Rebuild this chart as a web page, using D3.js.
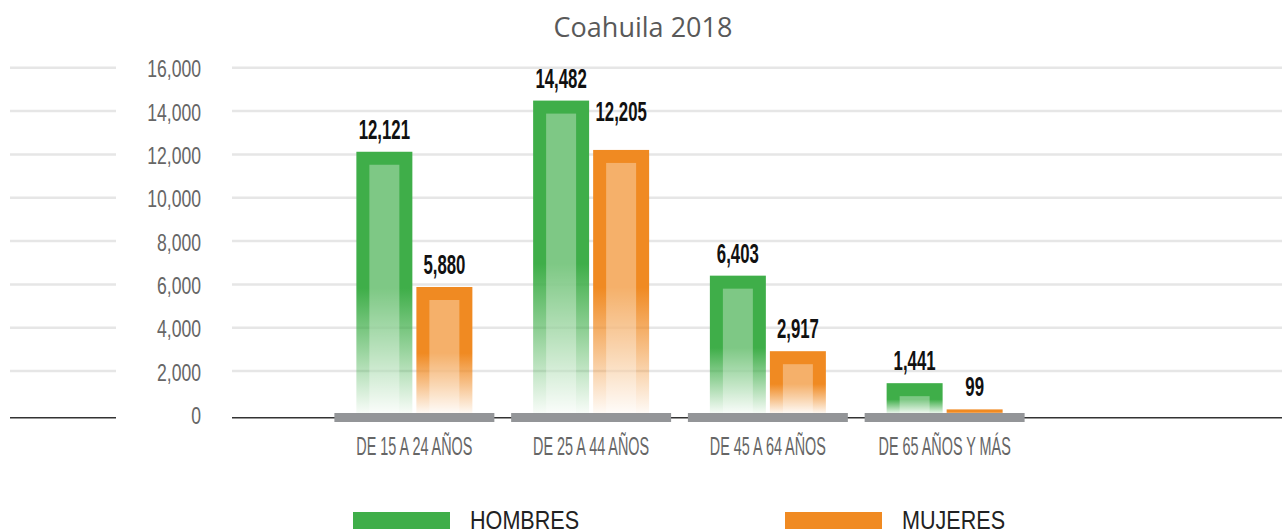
<!DOCTYPE html>
<meta charset="utf-8">
<script src="https://d3js.org/d3.v7.min.js"></script>
<style>
  body { margin: 0; background: #fff; }
  .title { font: 27px "Open Sans", sans-serif; fill: #595959; }
  .tick { font: 22px "Liberation Sans Narrow", sans-serif; fill: #666; }
  .cat { font: 24px "Liberation Sans Narrow", sans-serif; fill: #666; }
  .val { font: bold 28px "Liberation Sans Narrow", sans-serif; fill: #111; }
  .leg { font: 24px "Liberation Sans Narrow", sans-serif; fill: #222; }
</style>
<div id="chart"></div>
<script>
// data
const categories = ["DE 15 A 24 AÑOS", "DE 25 A 44 AÑOS", "DE 45 A 64 AÑOS", "DE 65 AÑOS Y MÁS"];
const series = ["HOMBRES", "MUJERES"];
const hombres = [12121, 14482, 6403, 1441];
const mujeres = [5880, 12205, 2917, 99];
const yTicks = [0, 2000, 4000, 6000, 8000, 10000, 12000, 14000, 16000];

const colors = { HOMBRES: "#3fae49", MUJERES: "#f08a22" };
const labelLift = { 12205: 16 };  // label placed higher in the original

const W = 1282, H = 530;
const svg = d3.select("#chart").append("svg")
  .attr("width", W).attr("height", H);

const fmt = d3.format(",");

const y = d3.scaleLinear().domain([0, 16000]).range([414.4, 67.7]);
const x0 = d3.scaleBand().domain(categories).range([326, 1033]);
const x1 = d3.scaleBand().domain(series).range([-58, 58]).paddingInner(0.067);

// gradients
const defs = svg.append("defs");
series.forEach(s => {
  const g = defs.append("linearGradient")
    .attr("id", "g-" + s).attr("x1", 0).attr("y1", 0).attr("x2", 0).attr("y2", 1);
  [[0, 1], [0.52, 1], [0.75, 0.55], [1, 0.03]].forEach(([o, a]) => {
    g.append("stop").attr("offset", o).attr("stop-color", colors[s]).attr("stop-opacity", a);
  });
});

// title
svg.append("text").attr("class", "title")
  .attr("x", 643).attr("y", 37).attr("text-anchor", "middle")
  .text("Coahuila 2018");

// gridlines (split around the tick labels)
const segs = [[10, 116], [232, W]];
yTicks.filter(t => t > 0).forEach(t => {
  segs.forEach(([a, b]) => {
    svg.append("line")
      .attr("x1", a).attr("x2", b).attr("y1", y(t)).attr("y2", y(t))
      .attr("stroke", "#e6e6e6").attr("stroke-width", 2.5);
  });
});
segs.forEach(([a, b]) => {
  svg.append("line")
    .attr("x1", a).attr("x2", b).attr("y1", y(0) + 3.3).attr("y2", y(0) + 3.3)
    .attr("stroke", "#333").attr("stroke-width", 1.5);
});

// y tick labels
svg.selectAll(".tick").data(yTicks).join("text")
  .attr("class", "tick")
  .attr("text-anchor", "end")
  .attr("dominant-baseline", "central")
  .attr("transform", d => `translate(201,${y(d) + 1}) scale(0.8,1.1)`)
  .text(d => fmt(d));

// bars
const rows = categories.map((c, i) => ({ cat: c, vals: [
  { s: "HOMBRES", v: hombres[i] }, { s: "MUJERES", v: mujeres[i] }] }));

const grp = svg.selectAll(".grp").data(rows).join("g")
  .attr("transform", d => `translate(${x0(d.cat) + x0.bandwidth() / 2},0)`);

grp.selectAll(".bar").data(d => d.vals).join("rect")
  .attr("x", d => x1(d.s))
  .attr("width", x1.bandwidth())
  .attr("y", d => Math.min(y(d.v), y(0) - 5))
  .attr("height", d => Math.max(y(0) - y(d.v), 5))
  .attr("fill", d => `url(#g-${d.s})`);

const inset = 13;
grp.selectAll(".inner").data(d => d.vals.filter(e => y(0) - y(e.v) > inset * 2)).join("rect")
  .attr("x", d => x1(d.s) + inset)
  .attr("width", x1.bandwidth() - inset * 2)
  .attr("y", d => y(d.v) + inset)
  .attr("height", d => y(0) - y(d.v) - inset)
  .attr("fill", "#fff").attr("fill-opacity", 0.33);

// gray base plates
const plateW = x0.bandwidth() * 0.905;
grp.append("rect")
  .attr("x", -plateW / 2).attr("width", plateW)
  .attr("y", y(0) - 1.4).attr("height", 9)
  .attr("fill", "#939598");

// value labels
grp.selectAll(".val").data(d => d.vals).join("text")
  .attr("class", "val")
  .attr("text-anchor", "middle")
  .attr("transform", d => {
    const top = Math.min(y(d.v), y(0) - 5);
    return `translate(${x1(d.s) + x1.bandwidth() / 2},${top - 13 - (labelLift[d.v] || 0)}) scale(0.6,1.02)`;
  })
  .text(d => fmt(d.v));

// category labels
grp.append("text").attr("class", "cat")
  .attr("text-anchor", "middle")
  .attr("transform", `translate(0,${y(0) + 41}) scale(0.6,1.05)`)
  .text(d => d.cat);

// legend
const legX = { HOMBRES: 353, MUJERES: 785 };
series.forEach(s => {
  svg.append("rect").attr("x", legX[s]).attr("y", 512).attr("width", 97).attr("height", 17)
    .attr("fill", colors[s]);
  svg.append("text").attr("class", "leg")
    .attr("transform", `translate(${legX[s] + 117},529) scale(0.9,1.05)`)
    .text(s);
});
</script>
